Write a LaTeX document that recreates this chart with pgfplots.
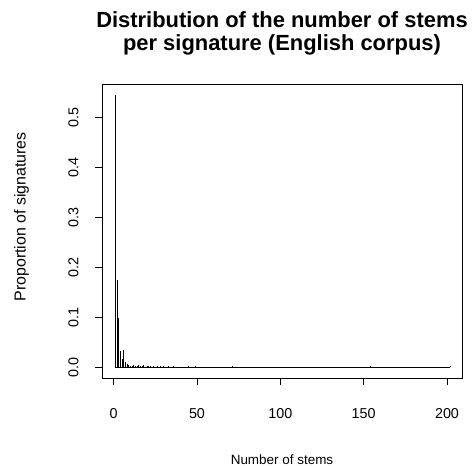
\documentclass[border=0pt]{standalone}
\usepackage{fontspec}
\setmainfont{Liberation Sans}
\usepackage{pgfplots}
\pgfplotsset{compat=1.18}
\begin{document}
\begin{tikzpicture}
\useasboundingbox (-102bp,-88bp) rectangle (371bp,378bp);
\begin{axis}[
  at={(0,0)}, anchor=south west,
  scale only axis, width=360bp, height=294bp,
  xmin=-7, xmax=209, ymin=-0.0218, ymax=0.5668,
  axis lines=box,
  draw=black, line width=0.8bp,
  tick style={black, line width=0.8bp},
  tick align=outside, major tick length=7bp,
  xtick pos=bottom, ytick pos=left,
  xtick={0,50,100,150,200},
  ytick={0,0.1,0.2,0.3,0.4,0.5},
  yticklabels={0.0,0.1,0.2,0.3,0.4,0.5},
  /pgf/number format/assume math mode=true,
  ticklabel style={font=\fontsize{14.4}{17}\selectfont},
  xticklabel style={anchor=north, inner sep=0pt, yshift=-23bp},
  yticklabel style={rotate=90, anchor=south, inner sep=0pt, yshift=16bp},
  title={Distribution of the number of stems\\per signature (English corpus)},
  title style={align=center, font=\bfseries\fontsize{22}{24}\selectfont,
    at={(rel axis cs:0.5,1)}, anchor=south, inner sep=0pt, yshift=22bp},
  xlabel={Number of stems},
  xlabel style={font=\fontsize{13.5}{16}\selectfont, at={(rel axis cs:0.5,0)}, anchor=base, inner sep=0pt, yshift=-86bp},
  ylabel={Proportion of signatures},
  ylabel style={font=\fontsize{16}{19}\selectfont, at={([xshift=-80.5bp]rel axis cs:0,0.548)}, anchor=center, inner sep=0pt},
]
\addplot[ycomb, black, line width=0.9bp] coordinates {
(1,0.545) (2,0.174) (3,0.099) (4,0.032) (5,0.017) (6,0.034) (7,0.010)
(8,0.006) (9,0.004) (10,0.003) (11,0.002) (12,0.005) (13,0.002) (14,0.002)
(15,0.004) (16,0.002) (17,0.002) (18,0.004) (19,0.001) (20,0.002) (21,0.002)
(22,0.003) (23,0.001) (24,0.002) (25,0.001) (26,0.002) (27,0.001) (28,0.002)
(29,0.001) (30,0.002) (32,0.001) (33,0.002) (35,0.001) (36,0.002) (38,0.001)
(40,0.001) (42,0.001) (45,0.003) (46,0.001) (49,0.003) (51,0.001) (55,0.001)
(60,0.001) (71,0.002) (154,0.002) (202,0.002)
};
\addplot[black, line width=0.6bp] coordinates {(1,0.0005) (202,0.0005)};
\end{axis}
\end{tikzpicture}
\end{document}
